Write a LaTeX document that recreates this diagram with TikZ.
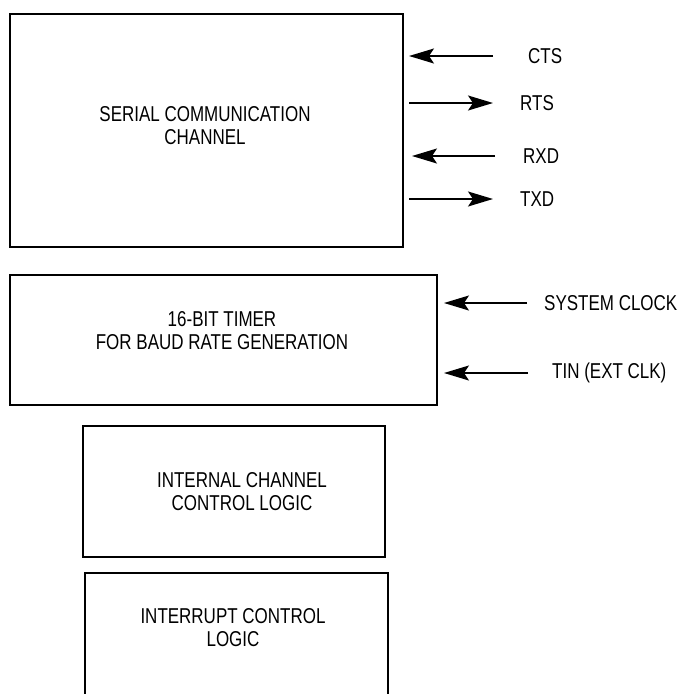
\documentclass[tikz,border=0pt]{standalone}
\usepackage{fontspec}
\setmainfont[FakeStretch=0.79]{Liberation Sans}
\usetikzlibrary{positioning, arrows.meta}

\begin{document}
\begin{tikzpicture}[x=1pt, y=-1pt, >={Stealth[length=25pt, width=15pt, inset=5pt]},
    block/.style={draw, line width=2pt, inner sep=0pt},
    title/.style={align=center, inner sep=0pt, font=\fontsize{21.5}{23}\selectfont},
    signal/.style={anchor=west, inner sep=0pt, font=\fontsize{21.5}{23}\selectfont},
    wire/.style={line width=1.7pt}]
    \useasboundingbox (0,0) rectangle (682,694);
    \clip (0,0) rectangle (682,694);

    % blocks
    \node[block, minimum width=393, minimum height=233] (scc) at (206.5,130.5) {};
    \node[block, minimum width=427, minimum height=130] (timer) at (223.5,340) {};
    \node[block, minimum width=302, minimum height=131] (ctrl) at (234,491.5) {};
    \node[block, minimum width=303, minimum height=140] (intr) at (236.5,643) {};

    \node[title] (scctext) at (205,126) {SERIAL COMMUNICATION\\CHANNEL};
    \node[title] (timertext) at (222,331) {16-BIT TIMER\\FOR BAUD RATE GENERATION};
    \node[title] (ctrltext) at (242,491.5) {INTERNAL CHANNEL\\CONTROL LOGIC};
    \node[title] (intrtext) at (233,627.5) {INTERRUPT CONTROL\\LOGIC};

    % signals
    \node[signal] (cts) at (528,56) {CTS};
    \node[signal] (rts) at (520,103) {RTS};
    \node[signal] (rxd) at (523,156) {RXD};
    \node[signal] (txd) at (520,199) {TXD};
    \node[signal] (sysclk) at (544,303) {SYSTEM CLOCK};
    \node[signal] (tin) at (552,373) {TIN (EXT CLK)};

    \draw[wire, ->, shorten >=5pt] ([xshift=-35pt]cts.west) -- (cts.west -| scc.east);
    \draw[wire, ->, shorten <=5pt] (rts.west -| scc.east) -- ([xshift=-27pt]rts.west);
    \draw[wire, ->, shorten >=8pt] ([xshift=-28pt]rxd.west) -- (rxd.west -| scc.east);
    \draw[wire, ->, shorten <=5pt] (txd.west -| scc.east) -- ([xshift=-27pt]txd.west);
    \draw[wire, ->, shorten >=6pt] ([xshift=-17pt]sysclk.west) -- (sysclk.west -| timer.east);
    \draw[wire, ->, shorten >=6pt] ([xshift=-24pt]tin.west) -- (tin.west -| timer.east);
\end{tikzpicture}
\end{document}
